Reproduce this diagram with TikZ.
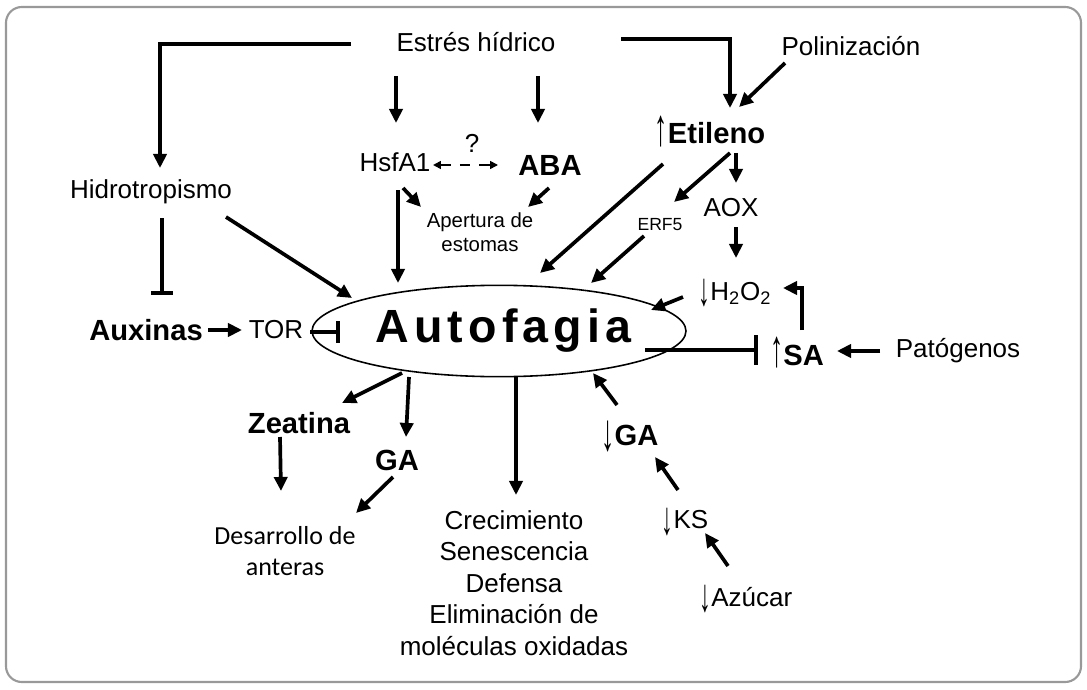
\documentclass[tikz,border=0pt]{standalone}
\usepackage{fontspec}
\usepackage{graphicx}
\setmainfont{Liberation Sans}
\newfontfamily\calib{Carlito}
\newfontfamily\autof[LetterSpace=11]{Liberation Sans}
\newcommand\uparr{{\mdseries\smash{\raisebox{-0.06em}{\scalebox{0.9}[1.8]{↑}}}}}
\newcommand\dnarr{{\mdseries\smash{\raisebox{-0.2em}{\scalebox{0.9}[1.8]{↓}}}}}
\usetikzlibrary{arrows.meta,shapes.geometric,calc}
\tikzset{
  arr/.style={line width=2.1pt,-{Triangle[length=8pt,width=7.5pt]}},
  inh/.style={line width=2.1pt,-{Bar[width=#1,line width=2.4pt]}},
  inh/.default=12pt,
  dsh/.style={line width=0.9pt,dash pattern=on 6pt off 5pt,{Triangle[length=4.5pt,width=4.5pt]}-{Triangle[length=4.5pt,width=4.5pt]}},
  reg/.style={font=\fontsize{14.8}{18}\selectfont,inner sep=0pt},
  bld/.style={font=\fontsize{16.6}{20}\selectfont\bfseries,inner sep=0pt},
  sml/.style={font=\fontsize{11.6}{13.6}\selectfont,inner sep=0pt},
  tny/.style={font=\fontsize{10}{12}\selectfont,inner sep=0pt},
  cal/.style={font=\calib\fontsize{14.8}{18.1}\selectfont,inner sep=0pt},
  frame/.style={draw=black!40,line width=1.2pt,rounded corners=9pt},
  oval/.style={draw,ellipse,line width=0.9pt,minimum width=173pt,minimum height=52pt,inner sep=0pt,font=\autof\bfseries\fontsize{26.5}{30}\selectfont}
}
\begin{document}
\begin{tikzpicture}[x=0.02cm,y=-0.02cm]
\useasboundingbox (0,0) rectangle (1087,689);
\draw[frame] (6,7) rectangle (1081,682);

% nodes
\node[reg] (estres) at (476,42) {Estrés hídrico};
\node[reg] (poli) at (851,46) {Polinización};
\node[reg] (hidro) at (151,192) {Hidrotropismo};
\node[reg] (hsf) at (395,162) {HsfA1};
\node[reg] (q) at (472,143) {?};
\node[bld] (aba) at (550,165) {ABA};
\node[sml,align=center] (ape) at (480,232) {Apertura de\\estomas};
\node[bld] (eti) at (710,133) {\uparr Etileno};
\node[tny] (erf) at (660,225) {ERF5};
\node[reg] (aox) at (731,208) {AOX};
\node[reg] (h2o2) at (735,293) {\dnarr H\textsubscript{2}O\textsubscript{2}};
\node[oval] (auto) at (499,331) {\hspace{5pt}Autofagia};
\node[bld] (aux) at (146,330) {Auxinas};
\node[reg] (tor) at (276,330) {TOR};
\node[bld] (sa) at (797,355) {\uparr SA};
\node[reg] (pat) at (958,351) {Patógenos};
\node[bld] (zea) at (299,423) {Zeatina};
\node[bld] (ga1) at (397,460) {GA};
\node[cal,align=center] (des) at (285,551) {Desarrollo de\\anteras};
\node[reg,align=center] (crec) at (514,583) {Crecimiento\\Senescencia\\Defensa\\Eliminación de\\moléculas oxidadas};
\node[bld] (ga2) at (630,435) {\dnarr GA};
\node[reg] (ks) at (685,520) {\dnarr KS};
\node[reg] (azu) at (746,597) {\dnarr Azúcar};

% connectors
\draw[arr] ($(estres)+(-125,2)$) -| ($(hidro)+(9,-24)$);
\draw[arr] ($(estres)+(-80,34)$) -- ($(hsf)+(1,-39)$);
\draw[arr] ($(estres)+(62,34)$) -- ($(aba)+(-12,-42)$);
\draw[arr] ($(estres)+(145,-3)$) -| ($(eti)+(20,-25)$);
\draw[arr] ($(poli)+(-66,17)$) -- ($(eti)+(29,-26)$);
\draw[inh] ($(hidro)+(11,26)$) -- ($(aux)+(16,-35)$);
\draw[arr] ($(hidro)+(75,25)$) -- ($(auto)+(-147,-33)$);
\draw[arr] ($(hsf)+(3,28)$) -- ($(auto)+(-101,-48)$);
\draw[arr] ($(hsf)+(8,26)$) -- ($(ape)+(-59,-25)$);
\draw[arr] ($(aba)+(-1,23)$) -- ($(ape)+(48,-25)$);
\draw[dsh] ($(hsf)+(38,3)$) -- ($(aba)+(-52,0)$);
\draw[arr] ($(eti)+(-47,31)$) -- ($(auto)+(41,-58)$);
\draw[arr] ($(eti)+(20,20)$) -- ($(erf)+(14,-23)$);
\draw[arr] ($(eti)+(26,20)$) -- ($(aox)+(5,-25)$);
\draw[arr] ($(erf)+(-16,11)$) -- ($(auto)+(92,-48)$);
\draw[arr] ($(aox)+(5,19)$) -- ($(h2o2)+(1,-35)$);
\draw[arr] ($(h2o2)+(-52,4)$) -- ($(auto)+(152,-21)$);
\draw[arr] ($(sa)+(5,-25)$) |- ($(h2o2)+(48,-5)$);
\draw[inh=17pt] ($(auto)+(146,19)$) -- ($(sa)+(-39,-5)$);
\draw[arr] ($(pat)+(-78,0)$) -- ($(sa)+(40,-4)$);
\draw[arr] ($(aux)+(62,0)$) -- ($(tor)+(-34,0)$);
\draw[inh] ($(tor)+(34,2)$) -- ($(auto)+(-159,1)$);
\draw[arr] ($(auto)+(-97,42)$) -- ($(zea)+(43,-20)$);
\draw[arr] ($(auto)+(-90,46)$) -- ($(ga1)+(9,-23)$);
\draw[arr] ($(zea)+(-19,14)$) -- ($(des)+(-4,-60)$);
\draw[arr] ($(ga1)+(-4,17)$) -- ($(des)+(71,-38)$);
\draw[arr] ($(auto)+(17,46)$) -- ($(crec)+(2,-88)$);
\draw[arr] ($(ga2)+(-13,-30)$) -- ($(auto)+(94,42)$);
\draw[arr] ($(ks)+(-7,-30)$) -- ($(ga2)+(25,22)$);
\draw[arr] ($(azu)+(-18,-31)$) -- ($(ks)+(20,13)$);
\end{tikzpicture}
\end{document}
